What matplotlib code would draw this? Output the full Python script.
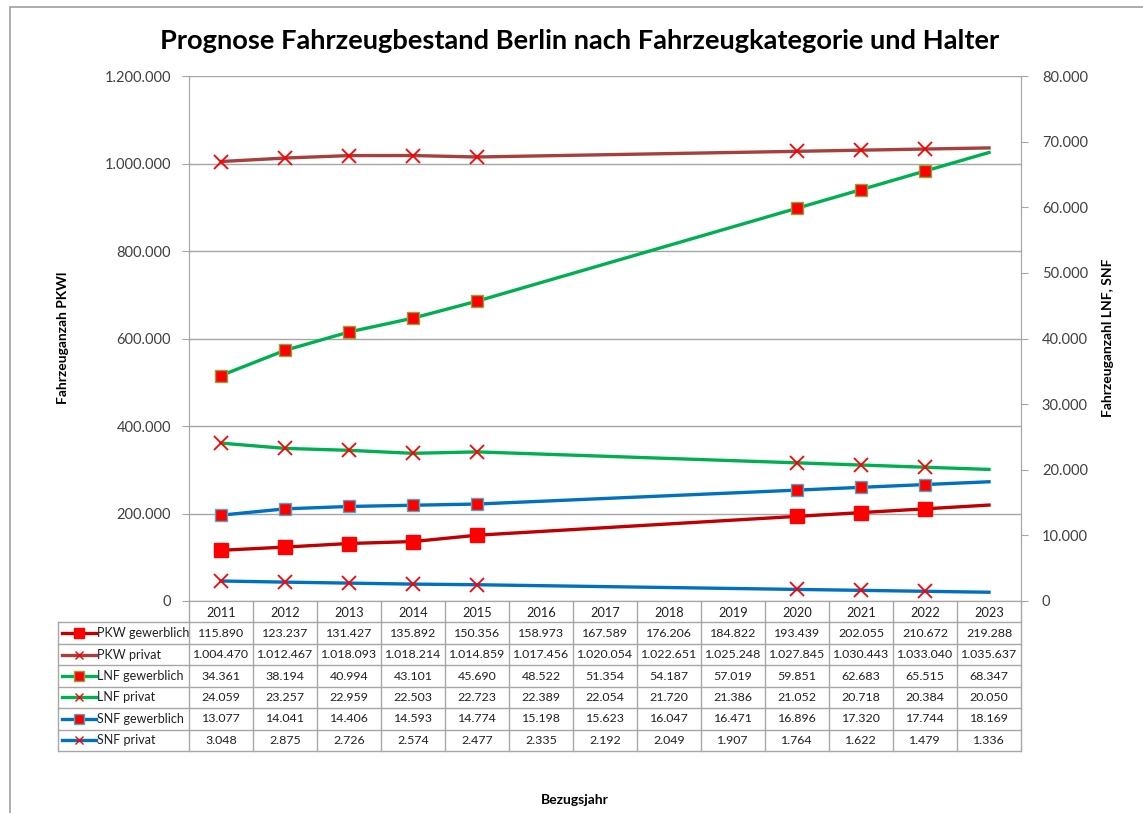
import matplotlib.pyplot as plt
import numpy as np
from matplotlib.patches import Rectangle

plt.rcParams['font.family'] = ['Lato', 'DejaVu Sans']

years = [2011, 2012, 2013, 2014, 2015, 2016, 2017, 2018, 2019, 2020, 2021, 2022, 2023]
marked_years = [2011, 2012, 2013, 2014, 2015, 2020, 2021, 2022]

pkw_gewerblich = [115890, 123237, 131427, 135892, 150356, 158973, 167589, 176206, 184822, 193439, 202055, 210672, 219288]
pkw_privat = [1004470, 1012467, 1018093, 1018214, 1014859, 1017456, 1020054, 1022651, 1025248, 1027845, 1030443, 1033040, 1035637]
lnf_gewerblich = [34361, 38194, 40994, 43101, 45690, 48522, 51354, 54187, 57019, 59851, 62683, 65515, 68347]
lnf_privat = [24059, 23257, 22959, 22503, 22723, 22389, 22054, 21720, 21386, 21052, 20718, 20384, 20050]
snf_gewerblich = [13077, 14041, 14406, 14593, 14774, 15198, 15623, 16047, 16471, 16896, 17320, 17744, 18169]
snf_privat = [3048, 2875, 2726, 2574, 2477, 2335, 2192, 2049, 1907, 1764, 1622, 1479, 1336]

left_ticks = [0, 200000, 400000, 600000, 800000, 1000000, 1200000]
right_ticks = [0, 10000, 20000, 30000, 40000, 50000, 60000, 70000, 80000]

RED = '#FF0000'
# name, values, line colour, marker, marker edge, marker size, axis
series = [
    ('PKW gewerblich', pkw_gewerblich, '#C00000', 's', RED, 10, 'left'),
    ('PKW privat', pkw_privat, '#A5403D', 'x', RED, 10, 'left'),
    ('LNF gewerblich', lnf_gewerblich, '#00B050', 's', '#8CA540', 8.5, 'right'),
    ('LNF privat', lnf_privat, '#00B050', 'x', RED, 10, 'right'),
    ('SNF gewerblich', snf_gewerblich, '#0070C0', 's', '#4BACC6', 8.5, 'right'),
    ('SNF privat', snf_privat, '#0070C0', 'x', RED, 10, 'right'),
]

GRID = '#A6A6A6'


def fmt(v):
    return f"{v:,}".replace(',', '.')


fig = plt.figure(figsize=(11.43, 8.13), dpi=100)
W, H = 1143, 813

# outer chart frame (cut at right/bottom like the screenshot)
fig.patches.append(Rectangle((10 / W, -0.1), 1.2, (813 - 7) / H + 0.1,
                             transform=fig.transFigure, fill=False,
                             edgecolor='#A0A0A0', lw=1.2))

ax = fig.add_axes([189 / W, (H - 601) / H, 832 / W, 525 / H])
ax2 = ax.twinx()

x = np.arange(len(years))
mark_idx = [years.index(y) for y in marked_years]

for name, vals, col, mk, mec, ms, side in series:
    target = ax if side == 'left' else ax2
    target.plot(x, vals, color=col, lw=2.4, marker=mk, markevery=mark_idx,
                markersize=ms, markerfacecolor=RED, markeredgecolor=mec,
                markeredgewidth=1.3 if mk == 'x' else 1.0, zorder=3)

ax.set_xlim(-0.5, len(years) - 0.5)
ax.set_ylim(0, 1200000)
ax2.set_ylim(0, 80000)
ax.set_yticks(left_ticks)
ax.set_yticklabels([fmt(v) for v in left_ticks], fontsize=10.5)
ax2.set_yticks(right_ticks)
ax2.set_yticklabels([fmt(v) for v in right_ticks], fontsize=10.5)
ax.set_xticks([])
ax.grid(axis='y', color=GRID, lw=1)
ax.set_axisbelow(True)

for a in (ax, ax2):
    a.spines['top'].set_visible(False)
    for s in ('left', 'right', 'bottom'):
        a.spines[s].set_color(GRID)
    a.tick_params(axis='y', colors=GRID, labelcolor='#404040', length=5, pad=8)
ax2.tick_params(axis='y', pad=10)

fig.text(63 / W, 1 - 338 / H, 'Fahrzeuganzah PKWl', rotation=90, ha='center', va='center',
         fontsize=10, fontweight='bold')
fig.text(1108 / W, 1 - 338 / H, 'Fahrzeuganzahl LNF, SNF', rotation=90, ha='center',
         va='center', fontsize=10, fontweight='bold')

fig.text(580 / W, 1 - 41 / H, 'Prognose Fahrzeugbestand Berlin nach Fahrzeugkategorie und Halter',
         ha='center', va='center', fontsize=19.6, fontweight='bold')
fig.text(575 / W, 1 - 800 / H, 'Bezugsjahr', ha='center', va='center',
         fontsize=10, fontweight='bold')

# data table below the plot
tax = fig.add_axes([58 / W, (H - 751) / H, 963 / W, 150 / H])
label_w = 131 / 64.0
x0 = -0.5 - label_w
tax.set_xlim(x0, len(years) - 0.5)
tax.set_ylim(len(series) + 1, 0)
tax.axis('off')

nrows = len(series) + 1
for r in range(1, nrows + 1):
    tax.plot([x0, len(years) - 0.5], [r, r], color=GRID, lw=1, clip_on=False)
tax.plot([x0, x0], [1, nrows], color=GRID, lw=1, clip_on=False)
for k in range(len(years) + 1):
    tax.plot([k - 0.5, k - 0.5], [0, nrows], color=GRID, lw=1, clip_on=False)

for i, yr in enumerate(years):
    tax.text(i, 0.55, str(yr), ha='center', va='center', fontsize=9.2, color='#202020')

for r, (name, vals, col, mk, mec, ms, side) in enumerate(series, start=1):
    yc = r + 0.5
    lx0 = x0 + 4 / 64
    lx1 = x0 + 38 / 64
    tax.plot([lx0, lx1], [yc, yc], color=col, lw=2.4, clip_on=False)
    tax.plot([(lx0 + lx1) / 2], [yc], marker=mk, markersize=6.5 if mk == 's' else 5.5,
             markerfacecolor=RED, markeredgecolor=mec, markeredgewidth=1, clip_on=False)
    tax.text(lx1 + 0.01, yc, name, ha='left', va='center', fontsize=9.0, color='#202020')
    for i, v in enumerate(vals):
        tax.text(i, yc, fmt(v), ha='center', va='center', fontsize=8.9, color='#202020')

fig.savefig('out.png', dpi=100)
